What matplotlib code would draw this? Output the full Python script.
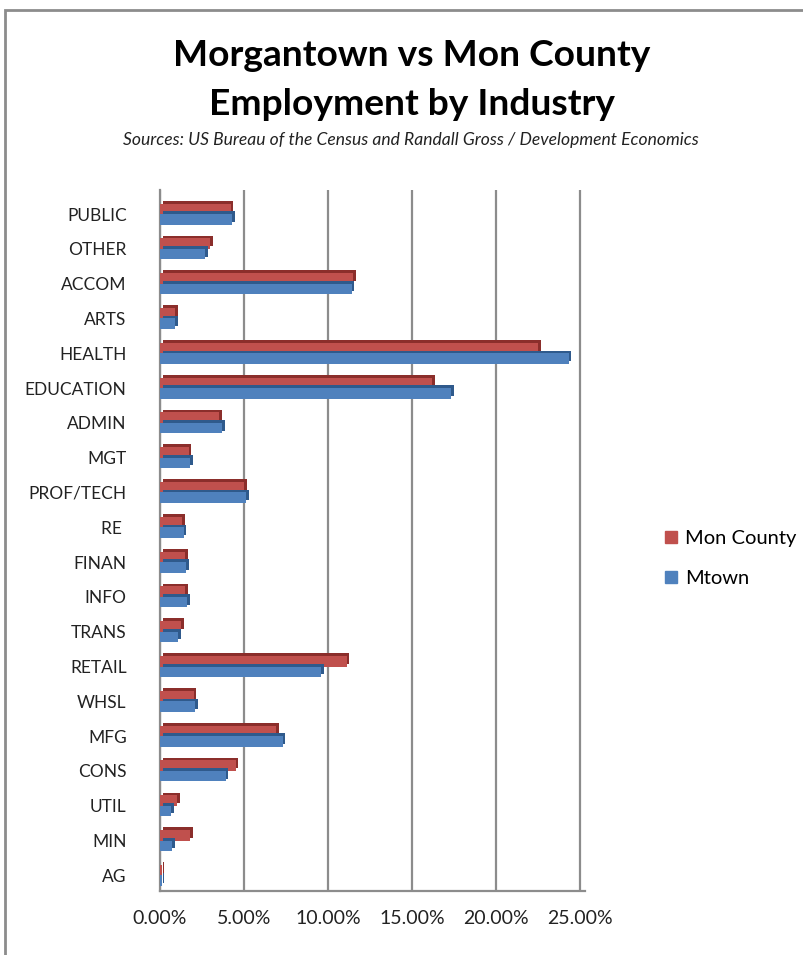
import matplotlib.pyplot as plt
import matplotlib.patheffects as pe
from matplotlib.lines import Line2D
from matplotlib.ticker import FuncFormatter
import numpy as np

# data (share of employment, %), bottom to top
industries = ['AG', 'MIN', 'UTIL', 'CONS', 'MFG', 'WHSL', 'RETAIL', 'TRANS', 'INFO', 'FINAN',
              'RE ', 'PROF/TECH', 'MGT', 'ADMIN', 'EDUCATION', 'HEALTH', 'ARTS', 'ACCOM',
              'OTHER', 'PUBLIC']
mon_county = [0.1, 1.8, 1.0, 4.5, 6.9, 2.0, 11.1, 1.25, 1.5, 1.5,
              1.3, 5.0, 1.7, 3.5, 16.2, 22.5, 0.9, 11.5, 3.0, 4.2]
mtown = [0.1, 0.7, 0.65, 3.9, 7.3, 2.1, 9.6, 1.1, 1.6, 1.55,
         1.4, 5.1, 1.8, 3.7, 17.3, 24.3, 0.9, 11.4, 2.7, 4.3]
xticks = [0, 5, 10, 15, 20, 25]

red = '#C0504D'
blue = '#4F81BD'
font = 'Lato'

fig = plt.figure(figsize=(8.04, 9.55), dpi=100)
ax = fig.add_axes([0.199, 0.067, 0.529, 0.734])

y = np.arange(len(industries))
h = 0.3
rb = ax.barh(y + h / 2, mon_county, height=h, color=red, zorder=3)
bb = ax.barh(y - h / 2, mtown, height=h, color=blue, zorder=3)

# fake 3D depth with a darker shifted copy
for bars, dark in ((rb, '#8B2E2B'), (bb, '#2F5A8C')):
    for p in bars:
        p.set_path_effects([pe.SimplePatchShadow(offset=(2, 2), shadow_rgbFace=dark, alpha=1),
                            pe.Normal()])

ax.set_xlim(0, 25.3)
ax.set_ylim(-0.45, len(industries) - 0.31)
ax.set_xticks(xticks)
ax.xaxis.set_major_formatter(FuncFormatter(lambda v, _: f'{v:.2f}%'))
ax.set_yticks(y)
ax.set_yticklabels(industries)
ax.tick_params(axis='y', length=0, pad=24, labelsize=12.5, colors='#222222')
ax.tick_params(axis='x', length=0, pad=14, labelsize=14, colors='#222222')
for lab in ax.get_xticklabels() + ax.get_yticklabels():
    lab.set_fontfamily(font)

ax.grid(axis='x', color='#8c8c8c', linewidth=1.6, zorder=1)
for s in ('top', 'right'):
    ax.spines[s].set_visible(False)
for s in ('left', 'bottom'):
    ax.spines[s].set_color('#8c8c8c')
    ax.spines[s].set_linewidth(1.6)

fig.text(0.512, 0.942, 'Morgantown vs Mon County', ha='center', va='center',
         fontsize=26.7, fontweight='bold', family=font)
fig.text(0.512, 0.891, 'Employment by Industry', ha='center', va='center',
         fontsize=26.7, fontweight='bold', family=font)
fig.text(0.511, 0.853, 'Sources: US Bureau of the Census and Randall Gross / Development Economics',
         ha='center', va='center', fontsize=12.6, style='italic', family=font, color='#222222')

handles = [Line2D([], [], marker='s', linestyle='none', color=red, markersize=9),
           Line2D([], [], marker='s', linestyle='none', color=blue, markersize=9)]
fig.legend(handles, ['Mon County', 'Mtown'], loc='center left', bbox_to_anchor=(0.8, 0.415),
           frameon=False, prop={'family': font, 'size': 14.5}, handletextpad=0.2,
           labelspacing=1.15, handlelength=1.0)

# chart frame
fig.add_artist(plt.Rectangle((0.0065, -0.01), 1.1, 1.0, transform=fig.transFigure,
                             fill=False, edgecolor='#8c8c8c', linewidth=2))

fig.savefig('out.png', dpi=100)
